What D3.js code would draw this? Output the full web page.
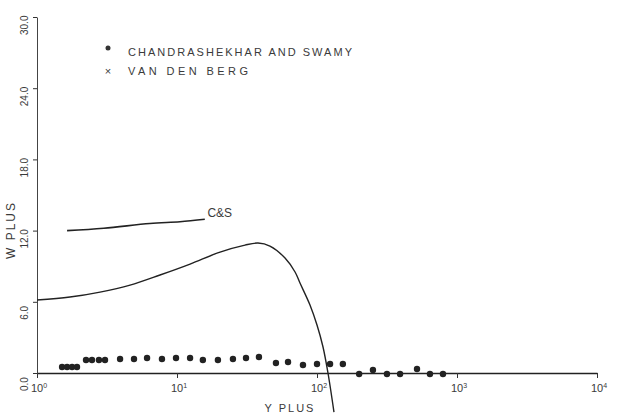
<!DOCTYPE html>
<html>
  <head>
    <meta charset="utf-8">
    <title>W plus vs Y plus</title>
    <script src="https://d3js.org/d3.v7.min.js"></script>
    <style>
      body { margin: 0; background: #fff; }
      text { font-family: "Liberation Sans", "DejaVu Sans", sans-serif; fill: #3a3a3a; }
    </style>
  </head>
  <body>
    <div id="chart"></div>
    <script>
    // data
    const decades = [1, 10, 100, 1000, 10000];
    const decadeExp = ["0", "1", "2", "3", "4"];
    const yTicks = [0, 6, 12, 18, 24, 30];
    const yTickLabels = ["0.0", "6.0", "12.0", "18.0", "24.0", "30.0"];

    // Chandrashekhar and Swamy points (y plus, w plus)
    const csX = [1.51, 1.64, 1.78, 1.93, 2.24, 2.47, 2.77, 3.06, 3.92, 4.93, 6.11, 7.81, 9.84,
                 12.4, 15.3, 19.6, 25.1, 31.1, 38.5, 50.9, 62.1, 79.4, 100, 124, 153,
                 200, 251, 316, 392, 518, 641, 794];
    const csY = [0.25, 0.25, 0.25, 0.25, 0.84, 0.84, 0.84, 0.84, 0.93, 0.93, 1.01, 0.93, 1.01,
                 1.01, 0.84, 0.84, 0.93, 1.01, 1.10, 0.59, 0.67, 0.42, 0.51, 0.51, 0.51,
                 -0.34, 0.0, -0.34, -0.34, 0.08, -0.34, -0.34];

    // C&S short line
    const lineCsX = [1.64, 3.0, 6.4, 10.5, 15.8];
    const lineCsY = [12.0, 12.2, 12.6, 12.75, 12.95];

    // main curve
    const curveX = [1.0, 1.72, 2.82, 4.62, 7.56, 12.4, 20.3, 30.6, 37.9, 46.1, 59.1, 69.7, 75.6, 89.1, 100, 110.4, 119.8, 132.2];
    const curveY = [6.15, 6.40, 6.82, 7.41, 8.26, 9.18, 10.19, 10.78, 10.95, 10.70, 9.69, 8.51, 7.58, 5.73, 4.04, 2.19, 0.0, -3.29];

    const W = 621, H = 415;
    const svg = d3.select("#chart").append("svg")
      .attr("width", W).attr("height", H);

    const x = d3.scaleLog().domain([1, 10000]).range([37, 597]);
    const y = d3.scaleLinear().domain([0, 30]).range([373, 17]);

    // x axis
    const gx = svg.append("g")
      .attr("transform", "translate(0," + y(0) + ")")
      .call(d3.axisBottom(x).tickValues(decades).tickSize(5).tickSizeOuter(0).tickFormat(""));
    gx.select(".domain").attr("stroke", "#222").attr("stroke-width", 1.3);
    gx.selectAll(".tick line").attr("stroke", "#333");

    decades.forEach((d, i) => {
      const t = svg.append("text")
        .attr("x", x(d) - 6)
        .attr("y", 392)
        .attr("font-size", 11);
      t.append("tspan").text("10");
      t.append("tspan").attr("dy", -4).attr("font-size", 7).text(decadeExp[i]);
    });

    // y axis
    const gy = svg.append("g")
      .attr("transform", "translate(" + x(1) + ",0)")
      .call(d3.axisLeft(y).tickValues(yTicks).tickSize(4).tickSizeOuter(0).tickFormat(""));
    gy.select(".domain").attr("stroke", "#444").attr("stroke-width", 1);
    gy.selectAll(".tick line").attr("stroke", "#333");

    yTicks.forEach((d, i) => {
      svg.append("text")
        .attr("transform", "translate(28," + (y(d) + 18) + ") rotate(-90)")
        .attr("text-anchor", "start")
        .attr("font-size", 10)
        .text(yTickLabels[i]);
    });

    // axis titles
    svg.append("text")
      .attr("x", 290).attr("y", 412)
      .attr("text-anchor", "middle")
      .attr("font-size", 11)
      .attr("letter-spacing", 2)
      .text("Y PLUS");
    svg.append("text")
      .attr("transform", "translate(15,230) rotate(-90)")
      .attr("text-anchor", "middle")
      .attr("font-size", 12)
      .attr("letter-spacing", 2)
      .text("W PLUS");

    const line = d3.line()
      .x(d => x(d[0]))
      .y(d => y(d[1]))
      .curve(d3.curveCatmullRom.alpha(0.5));

    svg.append("path")
      .datum(curveX.map((v, i) => [v, curveY[i]]))
      .attr("d", line)
      .attr("fill", "none")
      .attr("stroke", "#222")
      .attr("stroke-width", 1.4);

    svg.append("path")
      .datum(lineCsX.map((v, i) => [v, lineCsY[i]]))
      .attr("d", line)
      .attr("fill", "none")
      .attr("stroke", "#222")
      .attr("stroke-width", 1.6);

    svg.append("text")
      .attr("x", x(16.5)).attr("y", 217)
      .attr("font-size", 12)
      .text("C&S");

    // data points
    svg.selectAll(".pt")
      .data(csX.map((v, i) => [v, csY[i]]))
      .enter().append("circle")
      .attr("class", "pt")
      .attr("cx", d => x(d[0]))
      .attr("cy", d => y(d[1]) - 3)
      .attr("r", 3.2)
      .attr("fill", "#222");

    // legend
    svg.append("circle").attr("cx", 108).attr("cy", 48).attr("r", 2.5).attr("fill", "#333");
    svg.append("text")
      .attr("x", 128).attr("y", 56)
      .attr("font-size", 11)
      .attr("textLength", 224)
      .text("CHANDRASHEKHAR AND SWAMY");
    svg.append("text")
      .attr("x", 108).attr("y", 75)
      .attr("text-anchor", "middle")
      .attr("font-size", 11)
      .text("×");
    svg.append("text")
      .attr("x", 128).attr("y", 75)
      .attr("font-size", 11)
      .attr("textLength", 120)
      .text("VAN DEN BERG");
    </script>
  </body>
</html>
